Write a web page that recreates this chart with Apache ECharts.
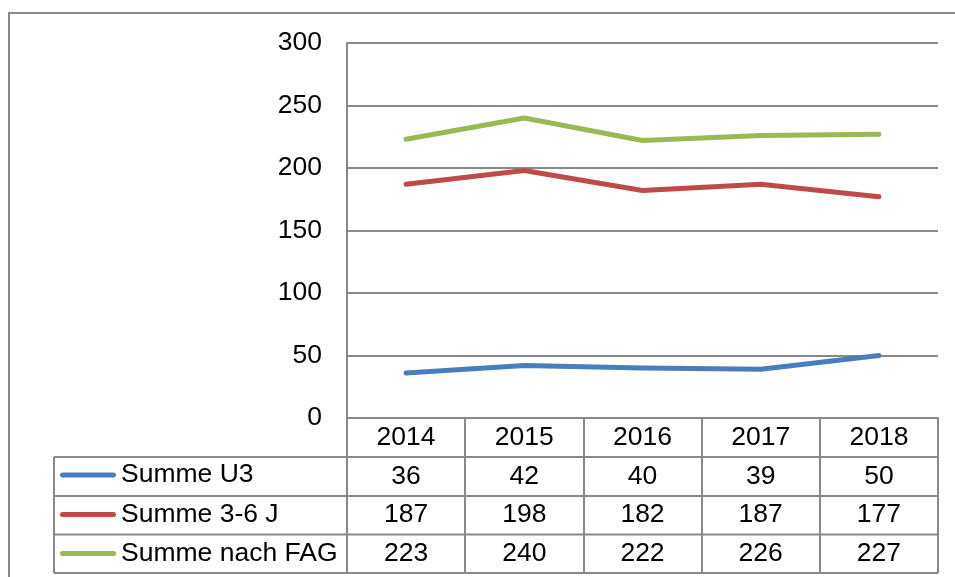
<!DOCTYPE html>
<html>
<head>
<meta charset="utf-8">
<script src="https://cdn.jsdelivr.net/npm/echarts@6/dist/echarts.min.js"></script>
<style>
  html, body { margin: 0; padding: 0; background: #fff; }
  #chart { width: 955px; height: 577px; }
</style>
</head>
<body>
<div id="chart"></div>
<script>
const years = ["2014", "2015", "2016", "2017", "2018"];
const seriesNames = ["Summe U3", "Summe 3-6 J", "Summe nach FAG"];
const summeU3 = [36, 42, 40, 39, 50];
const summe36 = [187, 198, 182, 187, 177];
const summeFAG = [223, 240, 222, 226, 227];
const yTicks = { min: 0, max: 300, interval: 50 };

const colors = ["#4a7ebb", "#be4b48", "#98b954"];
const rows = [summeU3, summe36, summeFAG];
const gray = "#898989";
const font = "'Liberation Sans', Arial, sans-serif";
const fs = 26.5;

const myChart = echarts.init(document.getElementById("chart"));

// rows of the data table are drawn as extra x axes under the grid
const rowOffsets = [39, 77, 116];
const valueAxes = rows.map((vals, i) => ({
  type: "category",
  data: years,
  position: "bottom",
  offset: rowOffsets[i],
  axisLine: { show: false },
  axisTick: { show: false },
  splitLine: { show: false },
  axisLabel: {
    interval: 0,
    margin: 20,
    verticalAlign: "middle",
    color: "#000",
    fontSize: fs,
    fontFamily: font,
    formatter: (v, idx) => String(vals[idx]),
  },
}));

// legend cells, one per table row
const legendCenters = [475, 514.5, 553.5];
const legends = seriesNames.map((name, i) => ({
  data: [name],
  left: 60,
  top: legendCenters[i] - 15,
  padding: 0,
  selectedMode: false,
  itemWidth: 56,
  itemHeight: 5,
  icon: "path://M2.5,0 H53.5 A2.5,2.5 0 0 1 53.5,5 H2.5 A2.5,2.5 0 0 1 2.5,0 Z",
  textStyle: { color: "#000", fontSize: fs, fontFamily: font, lineHeight: 30 },
}));

let option = {
  animation: false,
  color: colors,
  grid: { left: 347, right: 17, top: 43, bottom: 159, containLabel: false },
  legend: legends,
  xAxis: [
    {
      type: "category",
      data: years,
      boundaryGap: true,
      axisLine: { show: true, lineStyle: { color: gray, width: 2 } },
      axisTick: {
        show: true,
        interval: 0,
        alignWithLabel: false,
        inside: false,
        length: 155,
        lineStyle: { color: gray, width: 2 },
      },
      splitLine: { show: false },
      axisLabel: {
        interval: 0,
        margin: 20,
        verticalAlign: "middle",
        color: "#000",
        fontSize: fs,
        fontFamily: font,
      },
    },
    ...valueAxes,
  ],
  yAxis: {
    type: "value",
    min: yTicks.min,
    max: yTicks.max,
    interval: yTicks.interval,
    axisLine: { show: true, lineStyle: { color: gray, width: 2 } },
    axisTick: { show: false },
    splitLine: { show: true, lineStyle: { color: gray, width: 2 } },
    axisLabel: { margin: 25, color: "#000", fontSize: fs, fontFamily: font },
  },
  series: seriesNames.map((name, i) => ({
    name: name,
    type: "line",
    data: rows[i],
    showSymbol: false,
    symbol: "none",
    lineStyle: { width: 5, color: colors[i], cap: "round", join: "round" },
  })),
  graphic: [
    // outer chart frame
    {
      type: "rect",
      shape: { x: 9, y: 13, width: 1000, height: 700 },
      style: { fill: "none", stroke: gray, lineWidth: 2 },
      silent: true,
    },
    // table horizontal lines
    ...[457, 496, 534.5, 573].map((y) => ({
      type: "line",
      shape: { x1: 54, y1: y, x2: 938, y2: y },
      style: { stroke: gray, lineWidth: 2 },
      silent: true,
    })),
    // table left border
    {
      type: "line",
      shape: { x1: 54, y1: 457, x2: 54, y2: 573 },
      style: { stroke: gray, lineWidth: 2 },
      silent: true,
    },
  ],
};

option && myChart.setOption(option);

window.addEventListener("resize", function () {
  myChart.resize();
});
</script>
</body>
</html>
